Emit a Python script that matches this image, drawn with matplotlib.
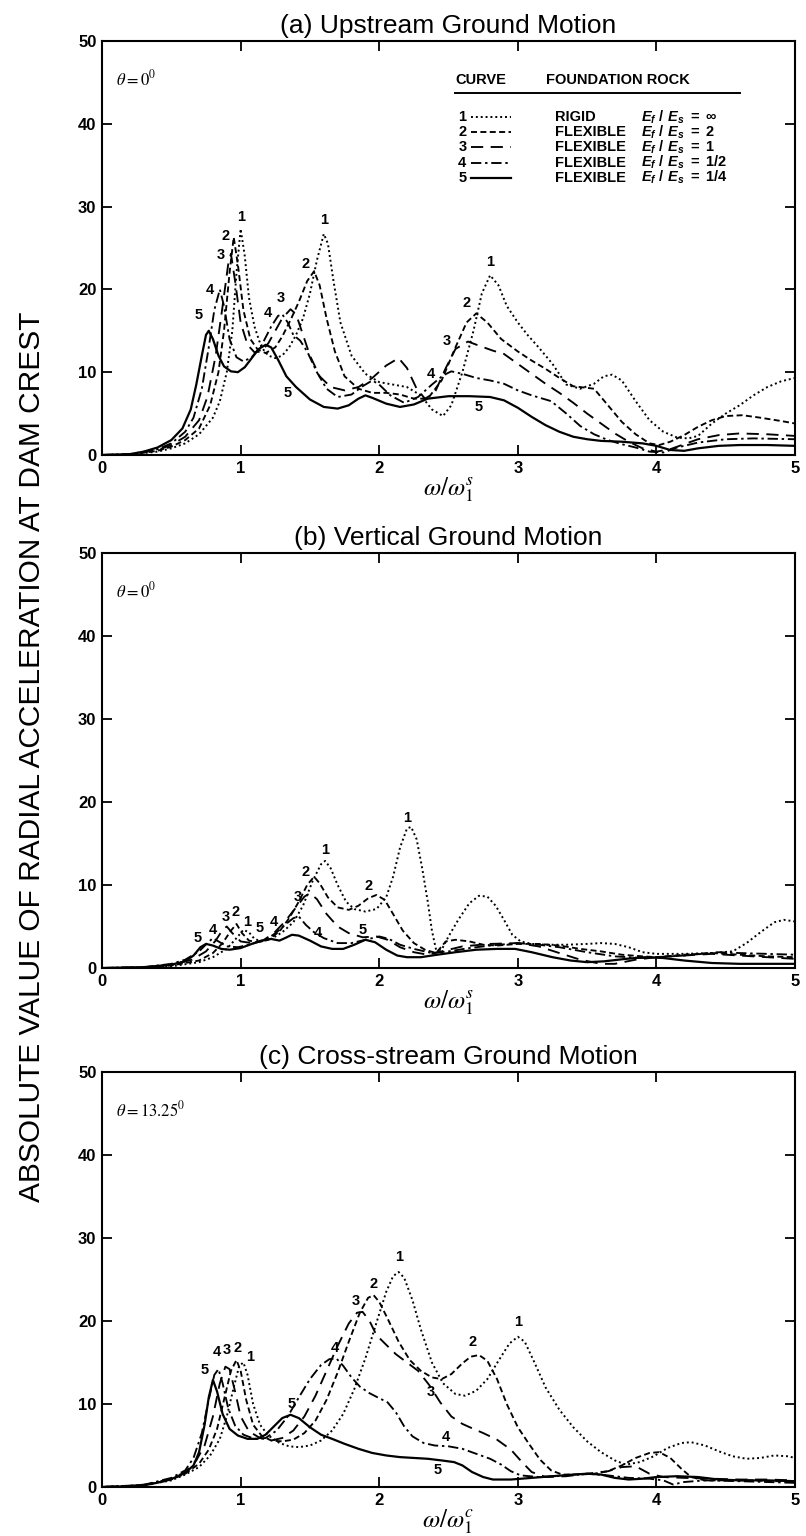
import numpy as np
import matplotlib
matplotlib.use("Agg")
import matplotlib.pyplot as plt

plt.rcParams['font.family'] = ['Liberation Sans', 'DejaVu Sans']
plt.rcParams['mathtext.fontset'] = 'custom'
plt.rcParams['mathtext.rm'] = 'Liberation Sans:bold'
plt.rcParams['mathtext.it'] = 'Liberation Sans:italic:bold'
plt.rcParams['mathtext.bf'] = 'Liberation Sans:bold'

# ---------------- (a) upstream ground motion ----------------
a1_x = [0, 0.2, 0.4, 0.5, 0.6, 0.7, 0.8, 0.85, 0.9, 0.94, 0.97, 1.0, 1.03, 1.06, 1.1, 1.15, 1.2, 1.25, 1.3,
        1.35, 1.4, 1.45, 1.5, 1.55, 1.6, 1.63, 1.67, 1.72, 1.8, 1.9, 2.0, 2.1, 2.2, 2.3, 2.38, 2.46, 2.52,
        2.6, 2.68, 2.74, 2.8, 2.86, 2.92, 3.0, 3.07, 3.15, 3.25, 3.35, 3.45, 3.55, 3.62, 3.68, 3.75, 3.85,
        3.95, 4.05, 4.15, 4.23, 4.3, 4.4, 4.5, 4.6, 4.7, 4.8, 4.9, 5.0]
a1_y = [0, 0.05, 0.4, 0.8, 1.4, 2.5, 4.5, 6.5, 10, 15, 22, 27.3, 24, 19, 15.5, 13, 12, 11.7, 12,
        13, 14.5, 16.5, 19.5, 23.5, 26.7, 25.5, 21, 16, 12, 9.8, 8.8, 8.5, 8.2, 7.2, 5.5, 4.7, 6,
        10, 15, 19.5, 21.7, 20.5, 18, 16, 14.5, 13, 11, 8.5, 8, 8.6, 9.5, 9.7, 9, 6.5,
        4.2, 2.8, 2.1, 2.0, 2.3, 3.8, 5.0, 6.0, 7.2, 8.2, 8.9, 9.3]

a2_x = [0, 0.2, 0.4, 0.5, 0.6, 0.7, 0.78, 0.84, 0.88, 0.92, 0.95, 0.98, 1.02, 1.07, 1.12, 1.18, 1.25, 1.3,
        1.36, 1.42, 1.48, 1.53, 1.57, 1.62, 1.68, 1.75, 1.85, 1.95, 2.05, 2.15, 2.25, 2.35, 2.45, 2.55,
        2.63, 2.7, 2.78, 2.88, 3.0, 3.1, 3.2, 3.3, 3.4, 3.5, 3.55, 3.65, 3.75, 3.85, 3.95, 4.02, 4.1,
        4.2, 4.3, 4.4, 4.5, 4.62, 4.75, 4.9, 5.0]
a2_y = [0, 0.05, 0.5, 1.0, 1.8, 3.2, 6, 10, 15, 22, 26.3, 23, 17.5, 14, 12.8, 12.3, 13, 14.3,
        16.3, 18.5, 21, 22.2, 20.5, 16.5, 12.5, 9.5, 8, 7.5, 7.5, 7.3, 6.8, 6.8, 9, 13,
        16, 17.1, 16, 14, 12.5, 11.4, 10.4, 9.3, 8.3, 8.1, 8.0, 6, 4, 2.5, 1.4, 1.2, 1.6,
        2.4, 3.4, 4.2, 4.7, 4.8, 4.5, 4.1, 3.8]

a3_x = [0, 0.2, 0.4, 0.5, 0.6, 0.7, 0.76, 0.82, 0.87, 0.91, 0.93, 0.96, 1.0, 1.05, 1.1, 1.15, 1.2, 1.25,
        1.3, 1.36, 1.4, 1.45, 1.5, 1.57, 1.65, 1.75, 1.85, 1.95, 2.05, 2.14, 2.2, 2.27, 2.33, 2.4, 2.48,
        2.55, 2.64, 2.72, 2.82, 2.9, 3.0, 3.1, 3.2, 3.3, 3.4, 3.5, 3.6, 3.7, 3.8, 3.9, 4.0, 4.1, 4.2,
        4.3, 4.45, 4.6, 4.8, 5.0]
a3_y = [0, 0.06, 0.6, 1.2, 2.2, 4.2, 7, 12, 18, 23, 24.3, 21, 16, 13.3, 12.4, 12.5, 13.5, 15,
        16.5, 17.6, 17, 14.5, 12, 9.5, 8.2, 7.8, 8.2, 9.3, 10.8, 11.7, 10.5, 8, 6.8, 7.5, 10.5,
        12.8, 13.7, 13.2, 12.6, 12.2, 11, 9.8, 8.6, 7.5, 6.3, 5, 3.8, 2.6, 1.6, 0.8, 0.4, 0.7, 1.3,
        1.9, 2.4, 2.6, 2.5, 2.3]

a4_x = [0, 0.2, 0.4, 0.5, 0.6, 0.66, 0.72, 0.77, 0.81, 0.85, 0.88, 0.92, 0.97, 1.02, 1.08, 1.15, 1.22,
        1.27, 1.3, 1.34, 1.38, 1.43, 1.48, 1.55, 1.62, 1.7, 1.8, 1.88, 1.95, 2.0, 2.08, 2.18, 2.28, 2.38,
        2.46, 2.52, 2.6, 2.7, 2.8, 2.9, 3.0, 3.1, 3.24, 3.35, 3.45, 3.55, 3.65, 3.75, 3.85, 3.95, 4.05,
        4.15, 4.3, 4.5, 4.7, 5.0]
a4_y = [0, 0.08, 0.7, 1.4, 2.8, 4.5, 8, 13, 17.5, 20, 18, 14, 11.8, 11.3, 11.8, 13.2, 15.5,
        16.8, 17, 16, 14.5, 13.8, 12.5, 10, 8, 7, 7.3, 8.3, 9, 8.5, 7.2, 6.3, 7, 8.5,
        9.6, 10.1, 9.8, 9.3, 9, 8.6, 7.8, 7.2, 6.5, 5, 3.5, 2.5, 1.8, 1.3, 0.9, 0.4, 0.3,
        0.9, 1.5, 1.9, 2.0, 1.9]

a5_x = [0, 0.2, 0.3, 0.4, 0.5, 0.58, 0.64, 0.68, 0.72, 0.75, 0.77, 0.8, 0.84, 0.88, 0.93, 0.98, 1.03,
        1.08, 1.13, 1.18, 1.22, 1.27, 1.33, 1.4, 1.5, 1.6, 1.7, 1.78, 1.85, 1.9, 1.95, 2.05, 2.15, 2.25,
        2.35, 2.5, 2.65, 2.8, 2.9, 3.0, 3.1, 3.2, 3.3, 3.4, 3.5, 3.6, 3.75, 3.9, 4.0, 4.1, 4.2, 4.3,
        4.45, 4.6, 4.8, 5.0]
a5_y = [0, 0.1, 0.4, 0.9, 1.8, 3.2, 5.5, 8.5, 12, 14.5, 15, 14, 12, 10.7, 10.1, 10, 10.6,
        11.7, 12.8, 13.3, 13, 11.5, 9.5, 8.2, 6.7, 5.8, 5.6, 6, 6.8, 7.2, 6.9, 6.2, 5.8, 6.1,
        6.8, 7.1, 7.1, 7.0, 6.6, 5.7, 4.6, 3.6, 2.8, 2.2, 1.9, 1.7, 1.6, 1.4, 1.1, 0.6, 0.5, 0.8,
        1.1, 1.2, 1.2, 1.1]

a_label_x = [1.0, 1.6, 2.8, 0.89, 1.47, 2.63, 0.86, 1.29, 2.49, 0.78, 1.2, 2.37, 0.7, 1.34, 2.72]
a_label_y = [28.7, 28.4, 23.3, 26.4, 23.1, 18.3, 24.1, 18.9, 13.8, 19.9, 17.2, 9.8, 16.9, 7.5, 5.8]
a_label_t = ['1', '1', '1', '2', '2', '2', '3', '3', '3', '4', '4', '4', '5', '5', '5']

# ---------------- (b) vertical ground motion ----------------
b1_x = [0, 0.3, 0.5, 0.7, 0.8, 0.9, 0.97, 1.02, 1.06, 1.1, 1.15, 1.22, 1.3, 1.38, 1.45, 1.52, 1.58, 1.61,
        1.65, 1.7, 1.76, 1.82, 1.9, 1.98, 2.05, 2.1, 2.15, 2.2, 2.23, 2.27, 2.31, 2.35, 2.38, 2.41, 2.45,
        2.5, 2.57, 2.65, 2.72, 2.78, 2.84, 2.9, 2.96, 3.02, 3.1, 3.2, 3.35, 3.5, 3.6, 3.7, 3.8, 3.9,
        4.0, 4.2, 4.4, 4.55, 4.65, 4.75, 4.85, 4.92, 5.0]
b1_y = [0, 0.05, 0.2, 0.7, 1.3, 2.3, 3.6, 4.6, 4.3, 3.5, 3.2, 3.5, 4.3, 5.5, 7.5, 10.5, 12.5, 12.9,
        12, 10, 8, 7.1, 6.8, 7.1, 8.5, 11, 14.5, 16.8, 17.0, 15.5, 12, 8, 4.5, 2.2, 2.2,
        3.8, 5.8, 7.8, 8.7, 8.6, 7.5, 5.8, 4, 3.2, 2.9, 2.8, 2.8, 2.9, 3.0, 2.9, 2.5, 1.9,
        1.7, 1.7, 1.8, 2.0, 3.0, 4.3, 5.5, 5.8, 5.6]

b2_x = [0, 0.3, 0.5, 0.7, 0.8, 0.87, 0.93, 0.97, 1.01, 1.06, 1.12, 1.2, 1.28, 1.35, 1.42, 1.48, 1.53, 1.57,
        1.63, 1.7, 1.78, 1.85, 1.92, 1.98, 2.04, 2.1, 2.17, 2.25, 2.33, 2.41, 2.48, 2.55, 2.65, 2.75,
        2.85, 3.0, 3.15, 3.3, 3.45, 3.6, 3.75, 3.9, 4.0, 4.2, 4.4, 4.6, 4.8, 5.0]
b2_y = [0, 0.05, 0.3, 0.9, 1.8, 3, 4.5, 5.3, 4.2, 3.3, 3.1, 3.4, 4.4, 6, 8, 10, 11, 10.2,
        8.5, 7.3, 7, 7.5, 8.4, 8.8, 8.2, 6.5, 4.5, 3, 2.2, 1.8, 3.2, 3.4, 3.2, 2.8,
        2.7, 2.9, 2.9, 2.7, 2.3, 2.0, 1.6, 1.4, 1.3, 1.6, 1.8, 1.6, 1.4, 1.3]

b3_x = [0, 0.3, 0.5, 0.65, 0.75, 0.82, 0.87, 0.9, 0.94, 1.0, 1.08, 1.16, 1.24, 1.32, 1.4, 1.46, 1.5, 1.55,
        1.62, 1.7, 1.78, 1.88, 1.98, 2.06, 2.15, 2.25, 2.35, 2.45, 2.6, 2.8, 3.0, 3.15, 3.3, 3.45, 3.6,
        3.7, 3.85, 4.0, 4.2, 4.4, 4.6, 4.8, 5.0]
b3_y = [0, 0.06, 0.4, 1.0, 2.0, 3.3, 4.6, 5.0, 4.2, 3.2, 3.0, 3.3, 4.2, 5.6, 7.3, 8.6, 9.0, 8.3,
        6.5, 5, 4.2, 3.7, 3.8, 3.4, 2.5, 1.9, 1.6, 2.0, 2.6, 2.9, 3.0, 2.6, 1.8, 1.0, 0.5,
        0.5, 1.0, 1.3, 1.5, 1.7, 1.5, 1.3, 1.1]

b4_x = [0, 0.3, 0.5, 0.6, 0.7, 0.76, 0.8, 0.84, 0.9, 0.98, 1.06, 1.14, 1.2, 1.26, 1.32, 1.38, 1.42, 1.47,
        1.53, 1.6, 1.7, 1.8, 1.9, 2.0, 2.07, 2.15, 2.25, 2.38, 2.5, 2.65, 2.8, 3.0, 3.15, 3.3, 3.5,
        3.7, 3.9, 4.0, 4.2, 4.45, 4.6, 4.8, 5.0]
b4_y = [0, 0.08, 0.5, 1.0, 2.0, 3.0, 3.6, 3.2, 2.6, 2.5, 2.8, 3.2, 3.6, 4.3, 5.2, 6.0, 6.2, 5.2,
        4.3, 3.6, 3.0, 3.0, 3.4, 3.8, 3.5, 2.8, 2.3, 1.8, 2.0, 2.4, 2.7, 3.0, 2.8, 2.5, 1.9,
        1.4, 1.2, 1.3, 1.5, 1.9, 1.8, 1.7, 1.6]

b5_x = [0, 0.3, 0.5, 0.6, 0.66, 0.71, 0.75, 0.8, 0.86, 0.92, 1.0, 1.08, 1.15, 1.22, 1.28, 1.32, 1.37, 1.42,
        1.5, 1.58, 1.66, 1.74, 1.82, 1.9, 1.97, 2.05, 2.13, 2.2, 2.3, 2.42, 2.55, 2.7, 2.85, 2.98, 3.1,
        3.25, 3.38, 3.5, 3.62, 3.78, 3.92, 4.05, 4.2, 4.4, 4.6, 4.8, 5.0]
b5_y = [0, 0.1, 0.4, 0.8, 1.5, 2.5, 2.9, 2.7, 2.3, 2.2, 2.4, 2.9, 3.3, 3.5, 3.3, 3.6, 4.0, 3.9,
        3.3, 2.6, 2.3, 2.3, 2.8, 3.4, 3.1, 2.2, 1.5, 1.3, 1.3, 1.6, 1.9, 2.2, 2.3, 2.3, 1.9,
        1.3, 0.9, 0.7, 0.8, 1.1, 1.3, 1.2, 0.9, 0.6, 0.5, 0.5, 0.5]

b_label_x = [1.05, 1.61, 2.2, 0.96, 1.47, 1.92, 0.89, 1.41, 0.8, 1.24, 1.56, 0.69, 1.14, 1.88]
b_label_y = [5.6, 14.2, 18.1, 6.7, 11.6, 9.9, 6.2, 8.6, 4.6, 5.6, 4.2, 3.6, 4.8, 4.6]
b_label_t = ['1', '1', '1', '2', '2', '2', '3', '3', '4', '4', '4', '5', '5', '5']

# ---------------- (c) cross-stream ground motion ----------------
c1_x = [0, 0.3, 0.5, 0.6, 0.7, 0.78, 0.85, 0.9, 0.95, 0.99, 1.02, 1.05, 1.09, 1.14, 1.2, 1.28, 1.35, 1.42,
        1.5, 1.58, 1.66, 1.74, 1.82, 1.9, 1.98, 2.05, 2.1, 2.14, 2.18, 2.24, 2.3, 2.38, 2.46, 2.55, 2.62,
        2.7, 2.78, 2.86, 2.94, 3.0, 3.05, 3.12, 3.2, 3.3, 3.4, 3.5, 3.6, 3.7, 3.78, 3.88, 3.98, 4.08,
        4.18, 4.25, 4.35, 4.45, 4.55, 4.65, 4.75, 4.85, 4.95, 5.0]
c1_y = [0, 0.2, 0.8, 1.5, 2.4, 3.8, 5.8, 8.5, 12, 14.6, 15, 13.5, 10, 7.5, 6.2, 5.3, 4.9, 4.8,
        5.0, 5.6, 6.8, 8.8, 11.8, 15.5, 19.8, 23.5, 25.4, 25.9, 25.2, 22.5, 19, 15, 12.5, 11.2, 11,
        11.6, 13, 15.2, 17.3, 18.1, 17.5, 15, 12, 9.3, 7.2, 5.5, 4.2, 3.2, 2.7, 3, 3.7, 4.7,
        5.3, 5.4, 5.0, 4.3, 3.7, 3.4, 3.5, 3.8, 3.7, 3.5]

c2_x = [0, 0.3, 0.5, 0.6, 0.7, 0.77, 0.83, 0.88, 0.93, 0.97, 1.0, 1.04, 1.09, 1.15, 1.22, 1.3, 1.38, 1.46,
        1.54, 1.62, 1.7, 1.78, 1.86, 1.92, 1.96, 2.0, 2.06, 2.14, 2.22, 2.3, 2.38, 2.45, 2.52, 2.6, 2.66,
        2.72, 2.78, 2.85, 2.92, 3.0, 3.08, 3.16, 3.24, 3.32, 3.45, 3.55, 3.65, 3.75, 3.85, 3.95, 4.02,
        4.1, 4.18, 4.25, 4.35, 4.5, 4.7, 4.85, 5.0]
c2_y = [0, 0.2, 0.9, 1.6, 2.8, 4.5, 7, 10.5, 14, 15.3, 14, 10.5, 7.5, 6.2, 5.6, 5.5, 5.7, 6.5,
        8, 10.5, 13.8, 17.5, 21, 22.8, 23.1, 22.3, 20.3, 17.5, 15.3, 14, 13.2, 13.0, 13.6, 14.9, 15.7,
        15.9, 15.2, 13, 10, 7.2, 5.2, 3.3, 2, 1.5, 1.5, 1.6, 1.9, 2.6, 3.5, 4.1, 4.2,
        3.5, 2.2, 1.2, 0.8, 0.8, 0.8, 0.7, 0.7]

c3_x = [0, 0.3, 0.5, 0.6, 0.68, 0.74, 0.8, 0.85, 0.89, 0.92, 0.96, 1.0, 1.06, 1.14, 1.22, 1.3, 1.38, 1.46,
        1.54, 1.62, 1.7, 1.78, 1.84, 1.88, 1.93, 1.98, 2.04, 2.12, 2.2, 2.28, 2.36, 2.44, 2.52, 2.6, 2.68,
        2.75, 2.85, 2.95, 3.03, 3.1, 3.2, 3.35, 3.5, 3.65, 3.75, 3.85, 3.95, 4.05, 4.2, 4.4, 4.6, 4.8, 5.0]
c3_y = [0, 0.2, 1.0, 1.8, 3.2, 5, 8.5, 12.5, 14.5, 14.2, 11.5, 8.5, 6.7, 5.9, 5.6, 5.9, 6.8, 8.5,
        11, 14, 17, 19.7, 21.0, 21.1, 20, 18.3, 17.3, 16.0, 15, 14, 12.3, 10.2, 8.5, 7.6, 7.0,
        6.5, 5.7, 4.5, 3.0, 1.8, 1.2, 1.3, 1.6, 1.9, 2.4, 2.5, 1.6, 1.2, 1.1, 1.0, 0.9, 0.9, 0.8]

c4_x = [0, 0.3, 0.5, 0.6, 0.66, 0.72, 0.77, 0.81, 0.84, 0.87, 0.91, 0.96, 1.02, 1.1, 1.18, 1.26, 1.34, 1.42,
        1.5, 1.58, 1.64, 1.69, 1.74, 1.8, 1.86, 1.93, 2.0, 2.06, 2.12, 2.18, 2.24, 2.32, 2.4, 2.5, 2.6,
        2.7, 2.8, 2.88, 2.95, 3.02, 3.15, 3.35, 3.5, 3.65, 3.8, 3.95, 4.05, 4.12, 4.2, 4.35, 4.6, 4.8, 5.0]
c4_y = [0, 0.25, 1.1, 2.0, 3.5, 6.5, 10.5, 13.5, 14.2, 12.5, 9.5, 7.4, 6.3, 5.8, 5.9, 6.8, 8.5, 10.8,
        13, 14.7, 15.4, 15.5, 14.6, 13.2, 12.1, 11.3, 10.7, 10.2, 9.0, 7.3, 6.1, 5.3, 5.0, 4.9, 4.6,
        4.0, 3.4, 2.7, 1.9, 1.4, 1.2, 1.4, 1.6, 1.4, 1.1, 1.0, 0.8, 0.3, 0.6, 0.8, 0.7, 0.6, 0.5]

c5_x = [0, 0.2, 0.35, 0.45, 0.52, 0.6, 0.66, 0.7, 0.74, 0.77, 0.8, 0.83, 0.87, 0.92, 0.98, 1.05, 1.12, 1.18,
        1.24, 1.3, 1.36, 1.42, 1.5, 1.58, 1.66, 1.75, 1.85, 1.95, 2.05, 2.15, 2.25, 2.35, 2.45, 2.54, 2.6,
        2.67, 2.75, 2.82, 2.95, 3.1, 3.25, 3.4, 3.5, 3.6, 3.7, 3.8, 3.9, 4.0, 4.15, 4.3, 4.45, 4.6, 4.8, 5.0]
c5_y = [0, 0.1, 0.35, 0.7, 1.1, 1.7, 2.6, 4.2, 7.5, 10.8, 12.9, 11.5, 8.8, 7.0, 6.2, 5.8, 5.8, 6.3,
        7.3, 8.3, 8.7, 8.3, 7.2, 6.3, 5.8, 5.2, 4.6, 4.1, 3.8, 3.6, 3.5, 3.4, 3.2, 3.0, 2.6,
        1.8, 1.2, 0.9, 0.9, 1.1, 1.3, 1.5, 1.6, 1.5, 1.1, 0.9, 1.0, 1.2, 1.3, 1.2, 0.9, 0.8, 0.8, 0.7]

c_label_x = [1.07, 2.14, 3.0, 0.98, 1.96, 2.67, 0.9, 1.83, 2.37, 0.83, 1.68, 2.48, 0.74, 1.37, 2.42]
c_label_y = [15.7, 27.7, 19.9, 16.7, 24.4, 17.5, 16.5, 22.4, 11.4, 16.3, 16.7, 6.0, 14.1, 10.0, 2.0]
c_label_t = ['1', '1', '1', '2', '2', '2', '3', '3', '3', '4', '4', '4', '5', '5', '5']

titles = ['(a) Upstream Ground Motion', '(b) Vertical Ground Motion', '(c) Cross-stream Ground Motion']
thetas = [r'$\theta = 0^0$', r'$\theta = 0^0$', r'$\theta = 13.25^0$']
xlabels = [r'$\omega/\omega_1^s$', r'$\omega/\omega_1^s$', r'$\omega/\omega_1^c$']

legend_num = ['1', '2', '3', '4', '5']
legend_rock = ['RIGID', 'FLEXIBLE', 'FLEXIBLE', 'FLEXIBLE', 'FLEXIBLE']
legend_ratio = [r'$E_f\ /\ E_s\ =\ \infty$', r'$E_f\ /\ E_s\ =\ 2$', r'$E_f\ /\ E_s\ =\ 1$',
                r'$E_f\ /\ E_s\ =\ 1/2$', r'$E_f\ /\ E_s\ =\ 1/4$']

# line styles for curves 1..5
styles = [dict(ls=(0, (1, 1.5)), lw=1.4),
          dict(ls=(0, (3.2, 1.8)), lw=1.35),
          dict(ls=(0, (6.5, 4)), lw=1.35),
          dict(ls=(0, (5.5, 2, 1.3, 2)), lw=1.35),
          dict(ls='-', lw=1.6)]

panels = [
    ([a1_x, a2_x, a3_x, a4_x, a5_x], [a1_y, a2_y, a3_y, a4_y, a5_y], a_label_x, a_label_y, a_label_t),
    ([b1_x, b2_x, b3_x, b4_x, b5_x], [b1_y, b2_y, b3_y, b4_y, b5_y], b_label_x, b_label_y, b_label_t),
    ([c1_x, c2_x, c3_x, c4_x, c5_x], [c1_y, c2_y, c3_y, c4_y, c5_y], c_label_x, c_label_y, c_label_t),
]

fig = plt.figure(figsize=(8.06, 15.36), dpi=100)
boxes = [[0.1266, 0.7038, 0.8598, 0.2695],
         [0.1266, 0.3698, 0.8598, 0.2702],
         [0.1266, 0.0319, 0.8598, 0.2702]]

for i, (xs, ys, lx, ly, lt) in enumerate(panels):
    ax = fig.add_axes(boxes[i])
    for k in range(5):
        ax.plot(xs[k], ys[k], color='black', **styles[k])
    for x, y, t in zip(lx, ly, lt):
        ax.text(x, y, t, ha='center', va='center', fontsize=10.5, fontweight='bold')
    ax.set_xlim(0, 5)
    ax.set_ylim(0, 50)
    ax.set_xticks([0, 1, 2, 3, 4, 5])
    ax.set_yticks([0, 10, 20, 30, 40, 50])
    ax.tick_params(direction='in', length=7, width=1.3, top=True, right=True,
                   labelsize=12, pad=4)
    for lab in ax.get_xticklabels() + ax.get_yticklabels():
        lab.set_fontweight('bold')
    for sp in ax.spines.values():
        sp.set_linewidth(1.5)
    ax.set_title(titles[i], fontsize=19, pad=6)
    ax.set_xlabel(xlabels[i], fontsize=18, labelpad=0, math_fontfamily='stix')
    ax.text(0.1, 45.5, thetas[i], fontsize=12, math_fontfamily='stix', va='center')

    if i == 0:
        # curve / foundation rock table
        ax.text(2.55, 45.3, 'CURVE', fontsize=10.5, fontweight='bold', va='center')
        ax.text(3.2, 45.3, 'FOUNDATION ROCK', fontsize=10.5, fontweight='bold', va='center')
        ax.plot([2.55, 4.6], [43.7, 43.7], color='black', lw=1.4)
        row_y = [40.8, 39.0, 37.2, 35.3, 33.5]
        for k in range(5):
            ax.text(2.57, row_y[k], legend_num[k], fontsize=10.5, fontweight='bold', va='center')
            ax.plot([2.66, 2.95], [row_y[k], row_y[k]], color='black', **styles[k])
            ax.text(3.27, row_y[k], legend_rock[k], fontsize=10.5, fontweight='bold', va='center')
            ax.text(3.89, row_y[k], legend_ratio[k], fontsize=10.5, va='center',
                    math_fontfamily='custom')

fig.text(0.04, 0.507, 'ABSOLUTE VALUE OF RADIAL ACCELERATION AT DAM CREST',
         rotation=90, ha='center', va='center', fontsize=21.5)

fig.savefig('out.png', dpi=100, facecolor='white')
